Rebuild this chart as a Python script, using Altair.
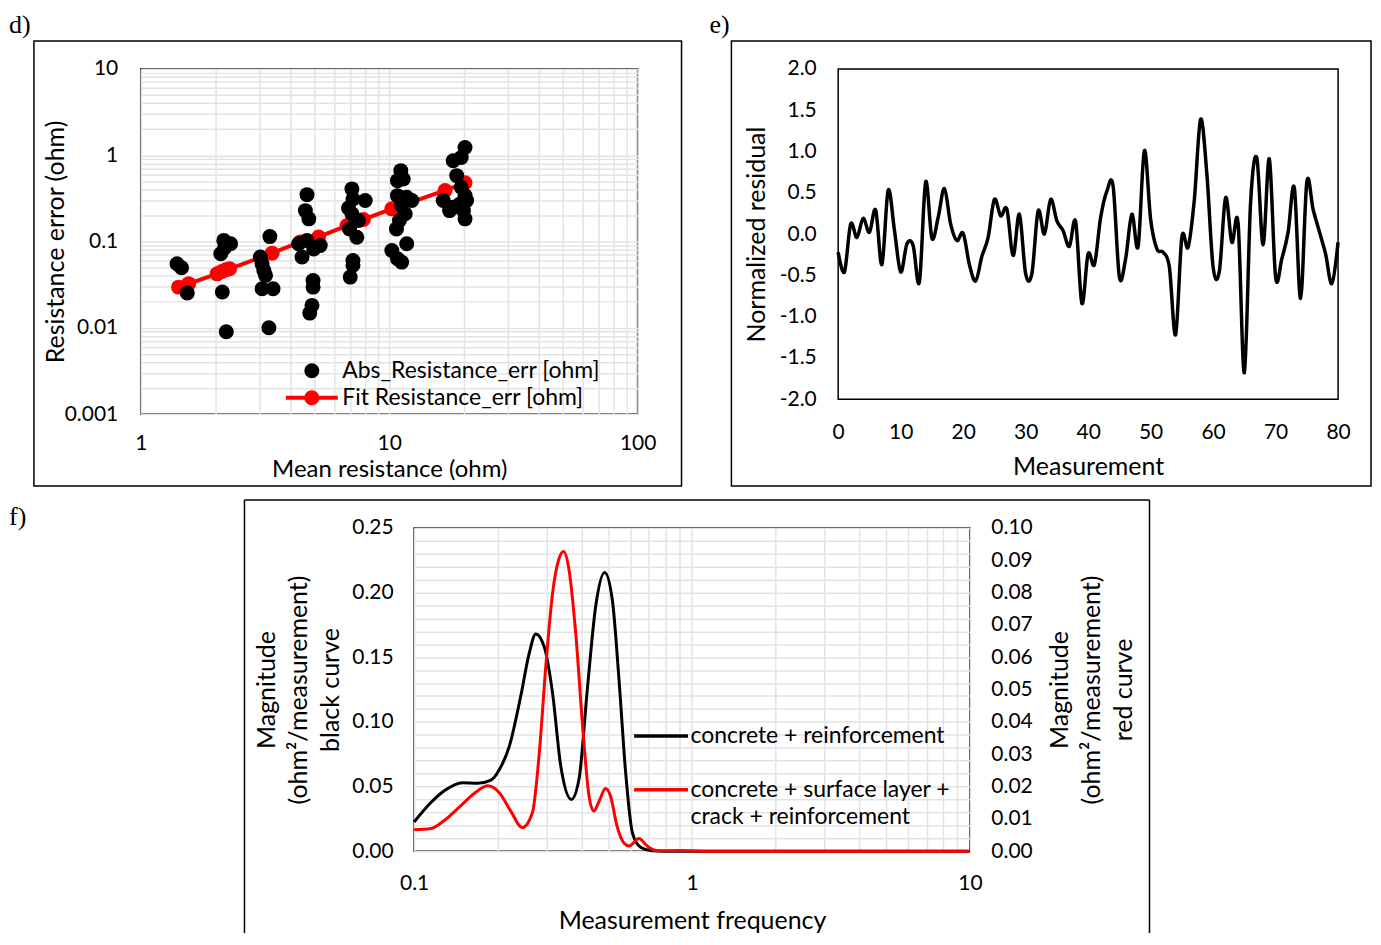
import altair as alt
import pandas as pd

FONT = "Lato"
SERIF = "Liberation Serif"
GRID = "#e3e3e3"
TICK_FS = 21
TITLE_FS = 25
LEG_FS = 23

# ---------------- panel d) : resistance error vs mean resistance ----------------
abs_r = [1.40, 1.46, 1.54,
         2.16, 2.30, 2.10, 2.18, 2.13, 2.21,
         3.31, 3.03, 3.08, 3.13, 3.18, 3.08, 3.41, 3.28,
         4.67, 4.60, 4.75, 4.32, 4.67, 4.97, 5.28, 4.46, 4.94, 4.94, 4.89, 4.79,
         7.08, 7.15, 8.01, 6.86, 7.08, 7.53, 6.93, 7.41, 7.15, 7.15, 6.97,
         11.14, 10.8, 11.4, 10.8, 11.77, 12.34, 11.23, 11.6, 11.0, 10.7, 11.77, 10.25, 10.8, 11.23,
         20.2, 18.1, 19.5, 18.7, 19.5, 20.2, 20.5, 16.5, 18.1, 19.2, 19.9, 20.2, 17.5]
abs_err = [0.0552, 0.0497, 0.0253,
           0.103, 0.094, 0.072, 0.085, 0.026, 0.009,
           0.114, 0.066, 0.055, 0.046, 0.0405, 0.0284, 0.0284, 0.010,
           0.349, 0.228, 0.183, 0.094, 0.103, 0.082, 0.090, 0.066, 0.0354, 0.0296, 0.0182, 0.0148,
           0.407, 0.311, 0.298, 0.245, 0.21, 0.175, 0.14, 0.112, 0.0603, 0.0531, 0.0387,
           0.662, 0.507, 0.53, 0.34, 0.325, 0.298, 0.26, 0.21, 0.175, 0.14, 0.094, 0.0786, 0.063, 0.0577,
           1.23, 0.864, 0.94, 0.58, 0.425, 0.34, 0.298, 0.298, 0.25, 0.27, 0.228, 0.183, 0.228]
fit_r = [1.42, 1.56, 2.03, 2.12, 2.20, 2.28, 3.38, 4.39, 5.20, 6.77, 7.88, 10.25, 16.8, 20.2]
fit_err = [0.0296, 0.0325, 0.0422, 0.045, 0.047, 0.0483, 0.0733, 0.099, 0.113, 0.153, 0.18, 0.239, 0.39, 0.48]
series_d = ["Abs_Resistance_err [ohm]", "Fit Resistance_err [ohm]"]

# ---------------- panel e) : normalized residual ----------------
measurement = list(range(81))
residual = [-0.22, -0.46, 0.12, -0.04, 0.19, 0.02, 0.29, -0.37, 0.53, 0.05,
            -0.46, -0.12, -0.14, -0.58, 0.63, -0.05, 0.20, 0.55, 0.12, -0.08,
            0.01, -0.37, -0.57, -0.27, -0.04, 0.42, 0.22, 0.30, -0.26, 0.24,
            -0.48, -0.48, 0.28, 0.00, 0.42, 0.16, 0.04, -0.15, 0.15, -0.84,
            -0.24, -0.37, 0.20, 0.52, 0.58, -0.52, -0.30, 0.24, -0.15, 1.01,
            0.18, -0.18, -0.22, -0.40, -1.22, -0.04, -0.16, 0.42, 1.39, 0.73,
            -0.40, -0.45, 0.44, -0.10, 0.13, -1.68, 0.38, 0.92, -0.13, 0.91,
            -0.52, -0.30, 0.02, 0.56, -0.78, 0.63, 0.30, 0.03, -0.24, -0.60,
            -0.10]

# ---------------- panel f) : spectra ----------------
freq_black = [0.1, 0.115, 0.128, 0.1496, 0.169, 0.189, 0.2025, 0.22, 0.242, 0.2595,
              0.274, 0.294, 0.315, 0.337, 0.368, 0.392, 0.42, 0.45, 0.485, 0.517,
              0.546, 0.577, 0.61, 0.653, 0.71, 0.8, 1.0, 10.0]
mag_black = [0.0226, 0.0376, 0.0465, 0.053, 0.0525, 0.055, 0.063, 0.081, 0.12, 0.153,
             0.168, 0.158, 0.122, 0.066, 0.040, 0.0556, 0.125, 0.189, 0.2155, 0.194,
             0.133, 0.061, 0.0144, 0.003, 0.0005, 0.0, 0.0, 0.0]
freq_red = [0.1, 0.115, 0.128, 0.147, 0.167, 0.184, 0.2025, 0.2228, 0.245, 0.2665,
            0.2815, 0.2978, 0.315, 0.3325, 0.345, 0.361, 0.3815, 0.404, 0.426, 0.443,
            0.466, 0.488, 0.509, 0.537, 0.569, 0.5935, 0.6445, 0.69, 0.75, 0.9, 1.1, 10.0]
mag_red = [0.0066, 0.0070, 0.0094, 0.014, 0.0183, 0.0202, 0.0181, 0.0124, 0.0073, 0.0119,
           0.0294, 0.0572, 0.0798, 0.0906, 0.0927, 0.087, 0.0675, 0.0387, 0.0171, 0.0124,
           0.016, 0.0194, 0.0171, 0.0078, 0.0025, 0.0016, 0.0039, 0.0016, 0.0001, 0.0002, 0.0, 0.0]
series_f = ["concrete + reinforcement", " ",
            "concrete + surface layer + crack + reinforcement", "crack + reinforcement"]

# tick / grid value lists
def log_minor(k0, k1):
    vals = []
    for k in range(k0, k1):
        for m in range(1, 10):
            vals.append(round(m * 10 ** k, 6))
    vals.append(round(10 ** k1, 6))
    return vals

xgrid_d = log_minor(0, 2)
ygrid_d = log_minor(-3, 1)
xgrid_f = log_minor(-1, 1)
ygrid_f = [round(i * 0.01, 2) for i in range(26)]
yright_f = [round(i * 0.01, 2) for i in range(11)]


def deco():
    return alt.Chart(alt.Data(values=[{"k": 0}]))


def box(x1, x2, y1, y2):
    return deco().mark_rect(fill="white", fillOpacity=0, stroke="black", strokeWidth=1.5).encode(
        x=alt.value(x1), x2=alt.value(x2), y=alt.value(y1), y2=alt.value(y2))


def panel_label(txt, x, y):
    return deco().mark_text(text=txt, font=SERIF, fontSize=26, align="left",
                            baseline="alphabetic", color="black").encode(
        x=alt.value(x), y=alt.value(y))


# ---------- d ----------
WD, HD = 498, 346
df_abs = pd.DataFrame({"r": abs_r, "err": abs_err, "series": series_d[0]})
df_fit = pd.DataFrame({"r": fit_r, "err": fit_err, "series": series_d[1]})

x_d = alt.X("r:Q", scale=alt.Scale(type="log", domain=[1, 100], nice=False),
            axis=alt.Axis(values=xgrid_d,
                          labelExpr="indexof([1,10,100], datum.value) >= 0 ? format(datum.value, '~g') : ''",
                          grid=True, gridColor=GRID, gridWidth=1.5, labelPadding=18,
                          title="Mean resistance (ohm)", titleY=56, titleBaseline="middle",
                          titleFontSize=24))
y_d = alt.Y("err:Q", scale=alt.Scale(type="log", domain=[0.001, 10], nice=False),
            axis=alt.Axis(values=ygrid_d,
                          labelExpr="indexof([0.001,0.01,0.1,1,10], datum.value) >= 0 ? format(datum.value, '~g') : ''",
                          grid=True, gridColor=GRID, gridWidth=1.5, labelPadding=23,
                          title="Resistance error (ohm)", titleX=-85, titleY=HD / 2,
                          titleAngle=270, titleBaseline="middle", titleAlign="center"))

FIT_PATH = ("M-3.47,-0.27L3.47,-0.27L3.47,0.27L-3.47,0.27Z "
            "M1,0A1,1,0,1,1,-1,0A1,1,0,1,1,1,0Z")
leg_d = alt.Legend(title=None, orient="none", legendX=160, legendY=291, symbolSize=225,
                   symbolStrokeWidth=0, labelFont=FONT, labelFontSize=LEG_FS, labelColor="black",
                   labelOffset=19, rowPadding=3, padding=0, labelLimit=0)
color_d = alt.Color("series:N", scale=alt.Scale(domain=series_d, range=["black", "red"]), legend=leg_d)
shape_d = alt.Shape("series:N", scale=alt.Scale(domain=series_d, range=["circle", FIT_PATH]), legend=leg_d)

fit_line = alt.Chart(df_fit).mark_line(color="red", strokeWidth=4).encode(x=x_d, y=y_d)
fit_pts = alt.Chart(df_fit).mark_circle(size=225, opacity=1).encode(x=x_d, y=y_d, color=color_d)
abs_pts = alt.Chart(df_abs).mark_point(filled=True, size=225, opacity=1).encode(
    x=x_d, y=y_d, color=color_d, shape=shape_d)

panel_d = alt.layer(
    box(-107, 542, -28, 418),
    panel_label("d)", -132, -36),
    fit_line, fit_pts, abs_pts,
).properties(width=WD, height=HD)

# ---------- e ----------
WE, HE = 501, 331
df_e = pd.DataFrame({"m": measurement, "res": residual})
line_e = alt.Chart(df_e).mark_line(color="black", strokeWidth=3.5, interpolate="cardinal", tension=0).encode(
    x=alt.X("m:Q", scale=alt.Scale(domain=[0, 80], nice=False),
            axis=alt.Axis(values=list(range(0, 81, 10)), labelPadding=22, grid=False,
                          title="Measurement", titleY=68, titleBaseline="middle")),
    y=alt.Y("res:Q", scale=alt.Scale(domain=[-2, 2], nice=False),
            axis=alt.Axis(values=[-2, -1.5, -1, -0.5, 0, 0.5, 1, 1.5, 2], grid=False,
                          labelExpr="(datum.value < 0 ? '-' : '') + format(abs(datum.value), '.1f')",
                          labelPadding=22, title="Normalized residual", titleX=-82, titleY=HE / 2,
                          titleAngle=270, titleBaseline="middle", titleAlign="center")),
)
panel_e = alt.layer(
    box(-107, 534, -28, 418),
    panel_label("e)", -129, -36),
    line_e,
).properties(width=WE, height=HE)

# ---------- f ----------
WF, HF = 557, 324
df_fb = pd.DataFrame({"f": freq_black, "mag": mag_black, "series": series_f[0]})
df_fr = pd.DataFrame({"f": freq_red, "mag": mag_red, "series": series_f[2]})

x_f = alt.X("f:Q", scale=alt.Scale(type="log", domain=[0.1, 10], nice=False),
            axis=alt.Axis(values=xgrid_f,
                          labelExpr="indexof([0.1,1,10], datum.value) >= 0 ? format(datum.value, '~g') : ''",
                          grid=True, gridColor=GRID, gridWidth=1.5, labelPadding=21,
                          title="Measurement frequency", titleY=70, titleBaseline="middle"))
leg_f = alt.Legend(title=None, orient="none", legendX=236, legendY=197,
                   symbolType="M-3.857,0L3.857,0", symbolSize=196, symbolStrokeWidth=3.5,
                   labelFont=FONT, labelFontSize=LEG_FS, labelColor="black", labelOffset=18,
                   rowPadding=3, padding=0, labelLimit=0,
                   labelExpr="datum.label == 'concrete + surface layer + crack + reinforcement' ? 'concrete + surface layer +' : datum.label")
color_f = alt.Color("series:N", scale=alt.Scale(domain=series_f,
                                                range=["black", "transparent", "red", "transparent"]),
                    legend=leg_f)

black_f = alt.Chart(df_fb).mark_line(strokeWidth=3, interpolate="monotone").encode(
    x=x_f,
    y=alt.Y("mag:Q", scale=alt.Scale(domain=[0, 0.25], nice=False),
            axis=alt.Axis(values=ygrid_f, orient="left",
                          labelExpr="indexof([0,0.05,0.1,0.15,0.2,0.25], datum.value) >= 0 ? format(datum.value, '.2f') : ''",
                          grid=True, gridColor=GRID, gridWidth=1.5, labelPadding=21,
                          title=["Magnitude", "(ohm\u00b2/measurement)", "black curve"],
                          titleX=-148, titleY=HF / 2, titleAngle=270, titleBaseline="middle",
                          titleAlign="center", titleLineHeight=32)),
    color=color_f,
)
red_f = alt.Chart(df_fr).mark_line(strokeWidth=3, interpolate="monotone").encode(
    x=x_f,
    y=alt.Y("mag:Q", scale=alt.Scale(domain=[0, 0.10], nice=False),
            axis=alt.Axis(values=yright_f, orient="right", format=".2f", grid=False, labelPadding=21,
                          title=["Magnitude", "(ohm\u00b2/measurement)", "red curve"],
                          titleX=90, titleY=HF / 2, titleAngle=270, titleBaseline="middle",
                          titleAlign="center", titleLineHeight=32)),
    color=color_f,
)
rule_top = deco().mark_rule(color="black", strokeWidth=1.5).encode(
    x=alt.value(-170), x2=alt.value(737), y=alt.value(-28))
rule_left = deco().mark_rule(color="black", strokeWidth=1.5).encode(
    x=alt.value(-170), y=alt.value(-28), y2=alt.value(406))
rule_right = deco().mark_rule(color="black", strokeWidth=1.5).encode(
    x=alt.value(737), y=alt.value(-28), y2=alt.value(406))

panel_f = alt.layer(
    rule_top, rule_left, rule_right,
    black_f, red_f,
).resolve_scale(y="independent").properties(width=WF, height=HF)

# left spacer that carries the "f)" label, so panel f sits where the reference has it
spacer_f = alt.layer(
    panel_label("f)", -132, -3),
).properties(width=100, height=HF,
             view=alt.ViewBackground(stroke="transparent", strokeOpacity=0))

top_row = alt.hconcat(panel_d, panel_e, spacing=25).resolve_scale(
    color="independent", shape="independent")
bottom_row = alt.hconcat(spacer_f, panel_f, spacing=2).resolve_scale(
    color="independent", shape="independent")

chart = alt.vconcat(
    top_row,
    bottom_row,
    spacing=10,
).resolve_scale(
    color="independent", shape="independent"
).properties(
    padding={"left": 0, "top": 2, "right": 0, "bottom": 0}
).configure_view(
    stroke="black", strokeWidth=1.5
).configure_axis(
    labelFont=FONT, titleFont=FONT, labelColor="black", titleColor="black",
    labelFontSize=TICK_FS, titleFontSize=TITLE_FS, titleFontWeight="normal",
    ticks=False, domain=False, labelOverlap=False, labelFlush=False, titleLimit=1000,
)

chart.save("out.html", embed_options={"renderer": "svg", "actions": False})
